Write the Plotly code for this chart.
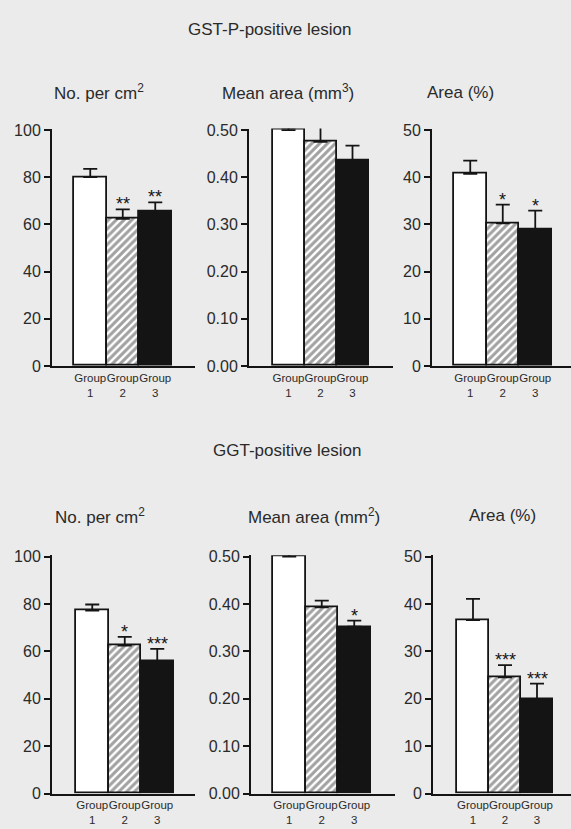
import plotly.graph_objects as go

# ---------------- data ----------------
groups = [1, 2, 3]
group_labels = ["Group<br>1", "Group<br>2", "Group<br>3"]

gstp_no = [80, 62.4, 65.4]
gstp_no_err = [3.5, 4.0, 3.9]
gstp_no_sig = ["", "**", "**"]

gstp_mean = [0.50, 0.475, 0.435]
gstp_mean_err = [0.005, 0.032, 0.032]
gstp_mean_sig = ["", "", ""]

gstp_area = [40.7, 30.2, 28.9]
gstp_area_err = [2.8, 4.0, 4.0]
gstp_area_sig = ["", "*", "*"]

ggt_no = [77.2, 62.4, 55.9]
ggt_no_err = [2.6, 3.7, 5.2]
ggt_no_sig = ["", "*", "***"]

ggt_mean = [0.50, 0.393, 0.352]
ggt_mean_err = [0.013, 0.014, 0.013]
ggt_mean_sig = ["", "", "*"]

ggt_area = [36.6, 24.5, 19.9]
ggt_area_err = [4.5, 2.6, 3.3]
ggt_area_sig = ["", "***", "***"]

y_ticks_no = [0, 20, 40, 60, 80, 100]
y_ticks_mean = [0.0, 0.1, 0.2, 0.3, 0.4, 0.5]
y_ticks_area = [0, 10, 20, 30, 40, 50]

# ---------------- layout helpers ----------------
W, H = 571, 829
FONT = "Liberation Sans, Arial, Helvetica, sans-serif"
BG = "#ebebeb"
INK = "#141414"
TXT = "#2a2a2a"

panels = [
    # data, err, sig, ticks, ymax, tickfmt, geometry(axL, axR, b1L, bw, y0, ytop)
    (gstp_no, gstp_no_err, gstp_no_sig, y_ticks_no, 100, "d", (52, 195, 74, 32.5, 366, 124)),
    (gstp_mean, gstp_mean_err, gstp_mean_sig, y_ticks_mean, 0.5, ".2f", (249, 393, 272.5, 32, 366, 124)),
    (gstp_area, gstp_area_err, gstp_area_sig, y_ticks_area, 50, "d", (432, 571, 454, 32.5, 366, 124)),
    (ggt_no, ggt_no_err, ggt_no_sig, y_ticks_no, 100, "d", (52, 195, 76, 32.5, 802, 559)),
    (ggt_mean, ggt_mean_err, ggt_mean_sig, y_ticks_mean, 0.5, ".2f", (251, 395, 273, 32.5, 802, 559)),
    (ggt_area, ggt_area_err, ggt_area_sig, y_ticks_area, 50, "d", (433, 571, 457, 32, 802, 559)),
]

fills = ["white", "white", INK]

fig = go.Figure()
layout = {}
annotations = []

for i, (vals, errs, sigs, ticks, ymax, fmt, geo) in enumerate(panels):
    axL, axR, b1L, bw, y0, ytop = geo
    n = i + 1
    xa = "x" if n == 1 else f"x{n}"
    ya = "y" if n == 1 else f"y{n}"
    xkey = "xaxis" if n == 1 else f"xaxis{n}"
    ykey = "yaxis" if n == 1 else f"yaxis{n}"

    c1 = b1L + bw / 2
    xr = [1 - (c1 - axL) / bw, 1 + (axR - c1) / bw]
    ytop_val = ymax * 1.006

    fig.add_trace(go.Bar(
        x=groups, y=vals, width=1.0,
        marker=dict(color=fills, line=dict(color=INK, width=1.8),
                    pattern=dict(shape=["", "/", ""], fgcolor="#000000",
                                 bgcolor="white", size=5.5, solidity=0.55)),
        error_y=dict(type="data", array=errs, arrayminus=[0, 0, 0], symmetric=False,
                     color=INK, thickness=1.8, width=7),
        xaxis=xa, yaxis=ya, showlegend=False,
    ))

    layout[xkey] = dict(
        domain=[axL / W, min(axR / W, 1.0)], range=xr, anchor=ya,
        tickmode="array", tickvals=groups, ticktext=group_labels,
        tickangle=0,
        showline=True, linecolor=INK, linewidth=2,
        ticks="", showgrid=False, zeroline=False,
        tickfont=dict(family=FONT, size=11.5, color=TXT),
        fixedrange=True,
    )
    layout[ykey] = dict(
        domain=[1 - y0 / H, 1 - ytop / H], range=[0, ytop_val], anchor=xa,
        tickmode="array", tickvals=ticks, tickformat=fmt,
        showline=True, linecolor=INK, linewidth=2,
        ticks="outside", ticklen=6, tickwidth=2, tickcolor=INK,
        showgrid=False, zeroline=False,
        tickfont=dict(family=FONT, size=16, color=TXT),
        fixedrange=True,
    )

    for g, v, e, s in zip(groups, vals, errs, sigs):
        if s:
            annotations.append(dict(
                x=g, y=v + e, xref=xa, yref=ya, text=s, showarrow=False,
                yanchor="bottom", yshift=-7,
                font=dict(family=FONT, size=18, color=INK),
            ))

# titles
def txt(text, xpx, ypx, size):
    return dict(text=text, x=xpx / W, y=1 - ypx / H, xref="paper", yref="paper",
                xanchor="center", yanchor="middle", showarrow=False,
                font=dict(family=FONT, size=size, color=TXT))

annotations += [
    txt("GST-P-positive lesion", 269, 23, 17),
    txt("No. per cm<sup>2</sup>", 99, 87, 17),
    txt("Mean area (mm<sup>3</sup>)", 288, 87, 17),
    txt("Area (%)", 460, 87, 17),
    txt("GGT-positive lesion", 287, 452, 17),
    txt("No. per cm<sup>2</sup>", 100, 519, 17),
    txt("Mean area (mm<sup>2</sup>)", 314, 519, 17),
    txt("Area (%)", 502, 518, 17),
]

fig.update_layout(
    width=W, height=H,
    margin=dict(l=0, r=0, t=0, b=0),
    paper_bgcolor=BG, plot_bgcolor="rgba(0,0,0,0)",
    bargap=0, annotations=annotations,
    font=dict(family=FONT),
    **layout,
)

page_css = (
    "var s=document.createElement('style');"
    "s.textContent='html,body{margin:0;padding:0;overflow:hidden;width:571px;height:829px;}"
    "body>div{margin:0;padding:0;height:829px;width:571px;overflow:hidden;line-height:0;}';"
    "document.head.appendChild(s);"
)

fig.write_html(
    "out.html",
    config={"displayModeBar": False},
    post_script=page_css,
)
